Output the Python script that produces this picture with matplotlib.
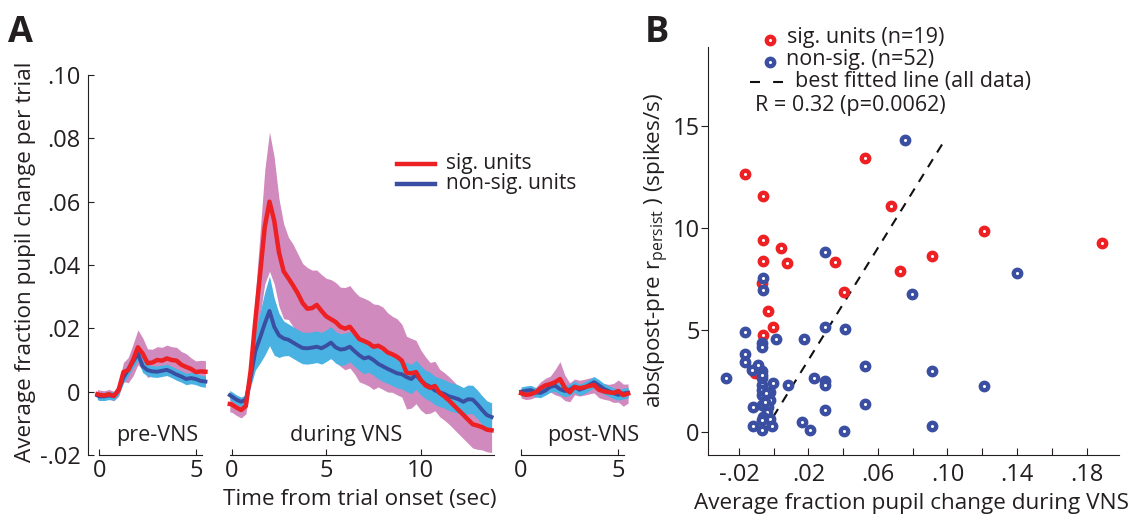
import matplotlib
matplotlib.use("Agg")
import matplotlib.pyplot as plt
from matplotlib.lines import Line2D

# ---------------- panel A: pupil traces ----------------
t_pre = [-0.1, 0.0, 0.25, 0.5, 0.75, 1.0, 1.25, 1.5, 1.75, 2.0, 2.25, 2.5, 2.75,
         3.0, 3.25, 3.5, 3.75, 4.0, 4.25, 4.5, 4.75, 5.0, 5.25, 5.5]
sig_pre = [-0.0008, -0.0010, -0.0012, -0.0008, -0.0014, 0.0005, 0.0062, 0.0068,
           0.0100, 0.0140, 0.0120, 0.0090, 0.0092, 0.0100, 0.0098, 0.0105, 0.0100,
           0.0098, 0.0085, 0.0078, 0.0072, 0.0062, 0.0064, 0.0063]
sig_pre_err = [0.0015, 0.0015, 0.0015, 0.0015, 0.0015, 0.0020, 0.0030, 0.0040,
               0.0050, 0.0055, 0.0050, 0.0045, 0.0042, 0.0042, 0.0042, 0.0042, 0.0042,
               0.0042, 0.0042, 0.0042, 0.0035, 0.0035, 0.0035, 0.0035]
non_pre = [-0.0012, -0.0015, -0.0015, -0.0012, -0.0014, 0.0005, 0.0045, 0.0070,
           0.0095, 0.0120, 0.0080, 0.0068, 0.0064, 0.0063, 0.0066, 0.0069, 0.0062,
           0.0054, 0.0048, 0.0040, 0.0043, 0.0040, 0.0034, 0.0032]
non_pre_err = [0.0013, 0.0013, 0.0013, 0.0013, 0.0013, 0.0015, 0.0018, 0.0020,
               0.0020, 0.0022, 0.0020, 0.0018, 0.0018, 0.0018, 0.0018, 0.0018, 0.0018,
               0.0018, 0.0018, 0.0018, 0.0018, 0.0018, 0.0018, 0.0018]

t_during = [-0.1, 0.0, 0.25, 0.5, 0.75, 1.0, 1.25, 1.5, 1.75, 2.0, 2.25, 2.5, 2.75,
            3.0, 3.25, 3.5, 3.75, 4.0, 4.25, 4.5, 4.75, 5.0, 5.25, 5.5, 5.75,
            6.0, 6.25, 6.5, 6.75, 7.0, 7.25, 7.5, 7.75, 8.0, 8.25, 8.5, 8.75,
            9.0, 9.25, 9.5, 9.75, 10.0, 10.25, 10.5, 10.75, 11.0, 11.25, 11.5, 11.75,
            12.0, 12.25, 12.5, 12.75, 13.0, 13.25, 13.5, 13.75]
sig_during = [-0.0039, -0.0040, -0.0050, -0.0058, -0.0045, 0.0065, 0.0225, 0.0370,
              0.0520, 0.0600, 0.0540, 0.0440, 0.0380, 0.0358, 0.0335, 0.0310, 0.0280,
              0.0262, 0.0264, 0.0274, 0.0255, 0.0238, 0.0229, 0.0220, 0.0205, 0.0199,
              0.0205, 0.0186, 0.0166, 0.0160, 0.0153, 0.0142, 0.0145, 0.0137, 0.0124,
              0.0118, 0.0110, 0.0098, 0.0060, 0.0058, 0.0062, 0.0037, 0.0020, 0.0012,
              0.0018, -0.0004, -0.0015, -0.0028, -0.0043, -0.0058, -0.0073, -0.0088,
              -0.0103, -0.0107, -0.0112, -0.0120, -0.0122]
sig_during_err = [0.0025, 0.0025, 0.0025, 0.0025, 0.0025, 0.0040, 0.0080, 0.0130,
                  0.0180, 0.0220, 0.0200, 0.0170, 0.0150, 0.0130, 0.0130, 0.0125, 0.0125,
                  0.0130, 0.0120, 0.0110, 0.0115, 0.0120, 0.0125, 0.0125, 0.0125, 0.0130,
                  0.0130, 0.0130, 0.0135, 0.0135, 0.0135, 0.0135, 0.0130, 0.0130, 0.0125,
                  0.0120, 0.0120, 0.0115, 0.0115, 0.0110, 0.0100, 0.0095, 0.0090, 0.0080,
                  0.0078, 0.0075, 0.0075, 0.0075, 0.0075, 0.0075, 0.0075, 0.0075,
                  0.0075, 0.0075, 0.0072, 0.0070, 0.0070]
non_during = [-0.0011, -0.0015, -0.0025, -0.0032, -0.0025, 0.0045, 0.0128, 0.0170,
              0.0215, 0.0255, 0.0205, 0.0178, 0.0168, 0.0164, 0.0155, 0.0146, 0.0138,
              0.0137, 0.0139, 0.0142, 0.0137, 0.0145, 0.0155, 0.0140, 0.0133, 0.0135,
              0.0142, 0.0128, 0.0115, 0.0105, 0.0109, 0.0100, 0.0088, 0.0080, 0.0072,
              0.0065, 0.0058, 0.0055, 0.0046, 0.0040, 0.0053, 0.0036, 0.0023, 0.0016,
              0.0004, -0.0002, -0.0007, -0.0015, -0.0019, -0.0024, -0.0032, -0.0024,
              -0.0025, -0.0040, -0.0058, -0.0074, -0.0080]
non_during_err = [0.0015, 0.0015, 0.0015, 0.0015, 0.0015, 0.0030, 0.0060, 0.0080,
                  0.0100, 0.0110, 0.0090, 0.0070, 0.0055, 0.0050, 0.0050, 0.0050, 0.0050,
                  0.0050, 0.0050, 0.0050, 0.0050, 0.0050, 0.0050, 0.0050, 0.0050, 0.0050,
                  0.0048, 0.0048, 0.0048, 0.0048, 0.0048, 0.0048, 0.0048, 0.0048, 0.0046,
                  0.0046, 0.0046, 0.0046, 0.0046, 0.0046, 0.0046, 0.0046, 0.0045, 0.0045,
                  0.0045, 0.0045, 0.0045, 0.0045, 0.0045, 0.0045, 0.0045, 0.0045,
                  0.0045, 0.0045, 0.0045, 0.0045, 0.0045]

t_post = [0.0, 0.25, 0.5, 0.75, 1.0, 1.25, 1.5, 1.75, 2.0, 2.25, 2.5, 2.75, 3.0,
          3.25, 3.5, 3.75, 4.0, 4.25, 4.5, 4.75, 5.0, 5.25, 5.5]
sig_post = [-0.0005, -0.0010, -0.0008, -0.0002, 0.0011, 0.0020, 0.0024, 0.0030,
            0.0040, 0.0012, -0.0002, 0.0015, 0.0011, 0.0014, 0.0018, 0.0021, 0.0006,
            0.0001, -0.0002, -0.0004, 0.0002, -0.0011, -0.0006]
sig_post_err = [0.0015, 0.0015, 0.0015, 0.0015, 0.0020, 0.0022, 0.0025, 0.0040,
                0.0055, 0.0040, 0.0030, 0.0025, 0.0025, 0.0025, 0.0025, 0.0025, 0.0025,
                0.0025, 0.0025, 0.0030, 0.0035, 0.0035, 0.0030]
non_post = [0.0000, 0.0003, 0.0005, -0.0002, -0.0004, 0.0004, 0.0015, 0.0019,
            0.0008, 0.0002, 0.0006, 0.0016, 0.0006, 0.0012, 0.0021, 0.0030, 0.0020,
            0.0009, 0.0002, -0.0005, -0.0010, -0.0006, -0.0003]
non_post_err = [0.0015, 0.0015, 0.0015, 0.0015, 0.0015, 0.0015, 0.0017, 0.0018,
                0.0018, 0.0018, 0.0018, 0.0018, 0.0018, 0.0018, 0.0018, 0.0018, 0.0018,
                0.0017, 0.0017, 0.0017, 0.0017, 0.0017, 0.0017]

a_yticks = [-0.02, 0.0, 0.02, 0.04, 0.06, 0.08, 0.10]
a_yticklabels = ["-.02", "0", ".02", ".04", ".06", ".08", ".10"]
epoch_names = ["pre-VNS", "during VNS", "post-VNS"]

# ---------------- panel B: scatter ----------------
sig_x = [-0.0164, -0.0060, 0.0525, 0.0673, 0.1212, 0.1887, -0.0060, 0.0040, 0.0909,
         0.0353, 0.0075, -0.0064, 0.0727, 0.0404, -0.0031, -0.0006, -0.0064, -0.0108,
         -0.0069]
sig_y = [12.66, 11.60, 13.43, 11.09, 9.86, 9.26, 9.42, 9.04, 8.65, 8.35, 8.28, 8.39,
         7.91, 6.85, 5.95, 5.16, 4.73, 2.90, 7.29]
non_x = [0.0755, 0.0295, -0.0064, -0.0064, 0.1398, 0.0797, 0.0413, 0.0295, 0.0172,
         0.0013, -0.0164, -0.0069, -0.0069, -0.0164, -0.0164, -0.0275, -0.0127, -0.0069,
         -0.0069, -0.0069, -0.0002, 0.0084, 0.0232, 0.0298, 0.0298, -0.0022, -0.0069,
         -0.0022, -0.0118, -0.0069, -0.0031, -0.0041, -0.0060, -0.0069, -0.0022, -0.0118,
         -0.0069, 0.0161, 0.0209, 0.0297, 0.0406, 0.0525, 0.0525, 0.0909, 0.0909, 0.1212,
         -0.0069, -0.0050, -0.0010, -0.0090, -0.0069, -0.0045]
non_y = [14.34, 8.83, 7.57, 6.96, 7.81, 6.77, 5.04, 5.14, 4.53, 4.57, 4.92, 4.34, 4.18,
         3.80, 3.44, 2.65, 3.03, 3.00, 2.62, 2.29, 2.38, 2.29, 2.62, 2.47, 2.29, 1.97,
         1.80, 1.56, 1.23, 1.31, 1.23, 0.98, 0.74, 0.57, 0.62, 0.27, 0.08, 0.46, 0.08,
         1.08, 0.05, 3.23, 1.35, 2.98, 0.29, 2.26, 2.05, 1.45, 0.30, 3.30, 2.80, 1.90]
fit_x = [-0.0056, 0.0986]
fit_y = [0.0, 14.35]
b_xticks = [-0.02, 0.02, 0.06, 0.10, 0.14, 0.18]
b_xticklabels = ["-.02", ".02", ".06", ".10", ".14", ".18"]
b_xminor = [0.0, 0.04, 0.08, 0.12, 0.16]
b_yticks = [0, 5, 10, 15]

RED = "#ED2024"
BLUE = "#3A4FA2"
LIGHT_BLUE = "#4AB1E3"
PINK = "#D08ABD"
INK = "#231F20"

TICK_FS = 17
LABEL_FS = 16.2
SMALL_FS = 15.5

plt.rcParams.update({
    "font.family": ["Open Sans", "DejaVu Sans"],
    "mathtext.fontset": "custom",
    "mathtext.rm": "Open Sans",
    "text.color": INK,
    "axes.edgecolor": INK,
    "xtick.color": INK,
    "ytick.color": INK,
    "axes.linewidth": 0.8,
})

W, H = 1136, 514
fig = plt.figure(figsize=(W / 100, H / 100), dpi=100)


def fx(px):
    return px / W


def fy(py):
    return 1 - py / H


def px_axes(left, top, right, bottom):
    return fig.add_axes([fx(left), fy(bottom), (right - left) / W, (bottom - top) / H])


# axes placements (pixels) and x ranges for the three epochs
epochs = [
    (t_pre, sig_pre, sig_pre_err, non_pre, non_pre_err, (87.7, 210), (-0.601, 5.736), (0, 5.3), [0, 5], 3.0),
    (t_during, sig_during, sig_during_err, non_during, non_during_err, (225, 495), (-0.354, 13.93), (-0.1, 13.9), [0, 5, 10], 6.07),
    (t_post, sig_post, sig_post_err, non_post, non_post_err, (514, 632), (-0.363, 5.70), (0, 5.3), [0, 5], 3.73),
]

for i, (t, s, se, n, ne, (l, r), xl, bnd, xt, lab_x) in enumerate(epochs):
    ax = px_axes(l, 75, r, 455)
    s_lo = [a - b for a, b in zip(s, se)]
    s_hi = [a + b for a, b in zip(s, se)]
    n_lo = [a - b for a, b in zip(n, ne)]
    n_hi = [a + b for a, b in zip(n, ne)]
    ax.fill_between(t, s_lo, s_hi, color=PINK, lw=0, zorder=1)
    ax.fill_between(t, n_lo, n_hi, color=LIGHT_BLUE, lw=0, zorder=2)
    ax.plot(t, n, color=BLUE, lw=2.8, zorder=3, solid_joinstyle="round")
    ax.plot(t, s, color=RED, lw=3.2, zorder=4, solid_joinstyle="round")
    ax.set_xlim(*xl)
    ax.set_ylim(-0.02, 0.10)
    ax.patch.set_alpha(0)
    for sp in ["top", "right"]:
        ax.spines[sp].set_visible(False)
    ax.spines["bottom"].set_bounds(*bnd)
    ax.set_xticks(xt)
    ax.set_xticklabels([str(v) for v in xt])
    ax.tick_params(axis="x", direction="in", length=4, width=0.8, labelsize=TICK_FS, pad=3)
    if i == 0:
        ax.set_yticks(a_yticks)
        ax.set_yticklabels(a_yticklabels)
        ax.tick_params(axis="y", direction="in", length=4, width=0.8, labelsize=TICK_FS, pad=5)
    else:
        ax.spines["left"].set_visible(False)
        ax.set_yticks([])
    ax.text(lab_x, -0.0137, epoch_names[i], ha="center", va="center", fontsize=SMALL_FS)

fig.text(fx(26), fy(262), "Average fraction pupil change per trial", rotation=90,
         ha="center", va="center", fontsize=LABEL_FS)
fig.text(fx(360), fy(505), "Time from trial onset (sec)", ha="center", va="baseline",
         fontsize=LABEL_FS)

# panel A legend
fig.add_artist(Line2D([fx(397), fx(435)], [fy(164), fy(164)], color=RED, lw=3.2))
fig.add_artist(Line2D([fx(397), fx(435)], [fy(184), fy(184)], color=BLUE, lw=3.2))
fig.text(fx(446), fy(163), "sig. units", ha="left", va="center", fontsize=15)
fig.text(fx(446), fy(183), "non-sig. units", ha="left", va="center", fontsize=15)

# ---------------- panel B ----------------
axb = px_axes(708, 47, 1119, 455)
ring = dict(marker="o", ls="none", ms=5.4, mew=3.1, mfc="white")
axb.plot(sig_x, sig_y, mec=RED, zorder=3, **ring)
axb.plot(non_x, non_y, mec=BLUE, zorder=4, **ring)
axb.plot(fit_x, fit_y, color="#111111", lw=1.5, dashes=(4.5, 3.8), zorder=2)
axb.set_xlim(-0.0378, 0.1987)
axb.set_ylim(-1.145, 18.9)
for sp in ["top", "right"]:
    axb.spines[sp].set_visible(False)
axb.set_xticks(b_xticks)
axb.set_xticklabels(b_xticklabels)
axb.set_xticks(b_xminor, minor=True)
axb.tick_params(axis="x", which="both", direction="in", length=5, width=0.8,
                labelsize=TICK_FS, pad=6)
axb.set_yticks(b_yticks)
axb.tick_params(axis="y", direction="out", length=5, width=0.8, labelsize=TICK_FS, pad=1)
axb.patch.set_alpha(0)

fig.text(fx(911), fy(509), "Average fraction pupil change during VNS", ha="center",
         va="baseline", fontsize=LABEL_FS)
fig.text(fx(657), fy(251), r"abs(post-pre r$_{\mathregular{persist}}$ ) (spikes/s)",
         rotation=90, ha="center", va="center", fontsize=LABEL_FS)

# panel B legend
fig.add_artist(Line2D([fx(769.5)], [fy(40.5)], mec=RED, **ring))
fig.add_artist(Line2D([fx(770)], [fy(62)], mec=BLUE, **ring))
fig.add_artist(Line2D([fx(750), fx(783)], [fy(81.5), fy(81.5)], color="#111111",
                      lw=1.5, dashes=(4.8, 6.3)))
fig.text(fx(787), fy(37), "sig. units (n=19)", ha="left", va="center", fontsize=SMALL_FS)
fig.text(fx(786), fy(60), "non-sig. (n=52)", ha="left", va="center", fontsize=SMALL_FS)
fig.text(fx(795), fy(81), "best fitted line (all data)", ha="left", va="center", fontsize=SMALL_FS)
fig.text(fx(755), fy(106), "R = 0.32 (p=0.0062)", ha="left", va="center", fontsize=SMALL_FS)

# panel letters
fig.text(fx(8), fy(41.7), "A", ha="left", va="baseline", fontsize=26, fontweight="bold")
fig.text(fx(645), fy(41.7), "B", ha="left", va="baseline", fontsize=26, fontweight="bold")

fig.savefig("out.png", dpi=100)
